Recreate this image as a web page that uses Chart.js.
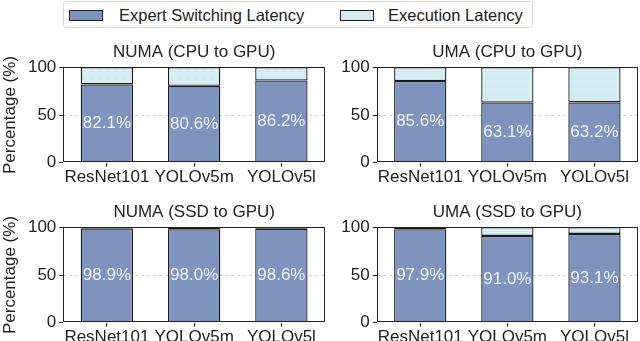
<!DOCTYPE html>
<html>
<head>
<meta charset="utf-8">
<script src="https://cdn.jsdelivr.net/npm/chart.js@4.4.1/dist/chart.umd.min.js"></script>
<style>
    html, body { margin: 0; padding: 0; background: #fff; overflow: hidden; }
    body { width: 640px; height: 341px; position: relative; font-family: 'Liberation Sans', Arial, sans-serif; color: #222; }
    canvas { position: absolute; }
    #legend {
        position: absolute; left: 63px; top: 1px; width: 470px; height: 27px;
        border: 1px solid #d8d8d8; border-radius: 3px; box-sizing: border-box;
    }
    #legend .patch { position: absolute; top: 8px; width: 34px; height: 11px; border: 1px solid #222; box-sizing: border-box; }
    #legend .label { position: absolute; top: 3px; font-size: 16.5px; line-height: 20px; white-space: nowrap; }
</style>
</head>
<body>
<div id="legend">
    <div class="patch" style="left: 5px; background: #7f93bf;"></div>
    <span class="label" style="left: 55px;">Expert Switching Latency</span>
    <div class="patch" style="left: 276px; background: #d6edf3;"></div>
    <span class="label" style="left: 324px;">Execution Latency</span>
</div>
<canvas id="numaCpu" width="330" height="160" style="left:0px; top:36px;"></canvas>
<canvas id="umaCpu" width="310" height="160" style="left:330px; top:36px;"></canvas>
<canvas id="numaSsd" width="330" height="160" style="left:0px; top:196px;"></canvas>
<canvas id="umaSsd" width="310" height="160" style="left:330px; top:196px;"></canvas>

<script>
// Data (percent of total latency)
const models = ['ResNet101', 'YOLOv5m', 'YOLOv5l'];
const yTicks = [0, 50, 100];

const numaCpuSwitch = [82.1, 80.6, 86.2];
const numaCpuExec = [17.9, 19.4, 13.8];
const umaCpuSwitch = [85.6, 63.1, 63.2];
const umaCpuExec = [14.4, 36.9, 36.8];
const numaSsdSwitch = [98.9, 98.0, 98.6];
const numaSsdExec = [1.1, 2.0, 1.4];
const umaSsdSwitch = [97.9, 91.0, 93.1];
const umaSsdExec = [2.1, 9.0, 6.9];

const FONT = "'Liberation Sans', Arial, sans-serif";
const SWITCH_COLOR = '#7f93bf';
const EXEC_COLOR = '#d6edf3';
const TEXT_COLOR = '#222';

// faint dotted hatch used by the execution segments
function execPattern() {
    const c = document.createElement('canvas');
    c.width = 8; c.height = 8;
    const g = c.getContext('2d');
    g.fillStyle = EXEC_COLOR;
    g.fillRect(0, 0, 8, 8);
    g.fillStyle = '#c3dce3';
    g.fillRect(3, 3, 1, 1);
    return g.createPattern(c, 'repeat');
}

// Black frame round the plot area (matplotlib-like spines)
const framePlugin = {
    id: 'frame',
    afterDatasetsDraw(chart) {
        const { ctx, chartArea: a } = chart;
        ctx.save();
        ctx.strokeStyle = TEXT_COLOR;
        ctx.lineWidth = 1;
        ctx.strokeRect(Math.round(a.left) + 0.5, Math.round(a.top) + 0.5,
            Math.round(a.right - a.left) - 1, Math.round(a.bottom - a.top) - 1);
        ctx.restore();
    }
};

// Percentage labels inside the switching bars
const valueLabelPlugin = {
    id: 'valueLabels',
    afterDatasetsDraw(chart) {
        const { ctx } = chart;
        const meta = chart.getDatasetMeta(0);
        const values = chart.data.datasets[0].data;
        ctx.save();
        ctx.font = '17px ' + FONT;
        ctx.fillStyle = 'rgba(255, 255, 255, 0.88)';
        ctx.textAlign = 'center';
        ctx.textBaseline = 'middle';
        meta.data.forEach((bar, i) => {
            ctx.fillText(values[i].toFixed(1) + '%', bar.x, (bar.y + bar.base) / 2);
        });
        ctx.restore();
    }
};

function makePanel(id, title, switching, execution, showYTitle) {
    const yWidth = showYTitle ? 63.3 : 46.7;
    const padRight = showYTitle ? 5 : 2;
    const ctx = document.getElementById(id).getContext('2d');
    return new Chart(ctx, {
        type: 'bar',
        data: {
            labels: models,
            datasets: [{
                label: 'Expert Switching Latency',
                data: switching,
                backgroundColor: SWITCH_COLOR,
                borderColor: '#1a1a1a',
                borderWidth: 1.3,
                borderSkipped: false
            }, {
                label: 'Execution Latency',
                data: execution,
                backgroundColor: execPattern(),
                borderColor: '#1a1a1a',
                borderWidth: 1.3,
                borderSkipped: false
            }]
        },
        options: {
            responsive: false,
            animation: false,
            devicePixelRatio: 1,
            layout: { padding: { left: 0, right: padRight, top: 0, bottom: 0 } },
            datasets: { bar: { barPercentage: 0.6, categoryPercentage: 1.0 } },
            plugins: {
                legend: { display: false },
                tooltip: { enabled: false },
                title: {
                    display: true,
                    fullSize: false,
                    text: title,
                    color: TEXT_COLOR,
                    font: { family: FONT, size: 17, weight: 'normal', lineHeight: 1.2 },
                    padding: { top: 5.8, bottom: 5.1 }
                }
            },
            scales: {
                x: {
                    stacked: true,
                    offset: true,
                    afterFit: s => { s.height = 33.3; },
                    grid: {
                        offset: false,
                        drawOnChartArea: false,
                        drawTicks: true,
                        tickLength: 4,
                        tickColor: TEXT_COLOR
                    },
                    border: { display: false },
                    ticks: {
                        color: TEXT_COLOR,
                        padding: 0,
                        autoSkip: false,
                        maxRotation: 0,
                        minRotation: 0,
                        font: { family: FONT, size: 17, lineHeight: 1.2 }
                    }
                },
                y: {
                    stacked: true,
                    min: yTicks[0],
                    max: yTicks[yTicks.length - 1],
                    afterFit: s => { s.width = yWidth; },
                    afterBuildTicks: s => { s.ticks = yTicks.map(v => ({ value: v })); },
                    grid: {
                        color: c => (c.tick && c.tick.value === 50) ? '#d4d4d4' : 'rgba(0,0,0,0)',
                        drawTicks: true,
                        tickLength: 4,
                        tickColor: TEXT_COLOR,
                        tickBorderDash: []
                    },
                    border: { display: false, dash: [3, 3] },
                    ticks: {
                        color: TEXT_COLOR,
                        padding: 3,
                        font: { family: FONT, size: 17, lineHeight: 1.2 }
                    },
                    title: {
                        display: showYTitle,
                        text: 'Percentage (%)',
                        color: TEXT_COLOR,
                        padding: { top: 0, bottom: 0 },
                        font: { family: FONT, size: 17, lineHeight: 1.2 }
                    }
                }
            }
        },
        plugins: [framePlugin, valueLabelPlugin]
    });
}

makePanel('numaCpu', 'NUMA (CPU to GPU)', numaCpuSwitch, numaCpuExec, true);
makePanel('umaCpu', 'UMA (CPU to GPU)', umaCpuSwitch, umaCpuExec, false);
makePanel('numaSsd', 'NUMA (SSD to GPU)', numaSsdSwitch, numaSsdExec, true);
makePanel('umaSsd', 'UMA (SSD to GPU)', umaSsdSwitch, umaSsdExec, false);
</script>
</body>
</html>
